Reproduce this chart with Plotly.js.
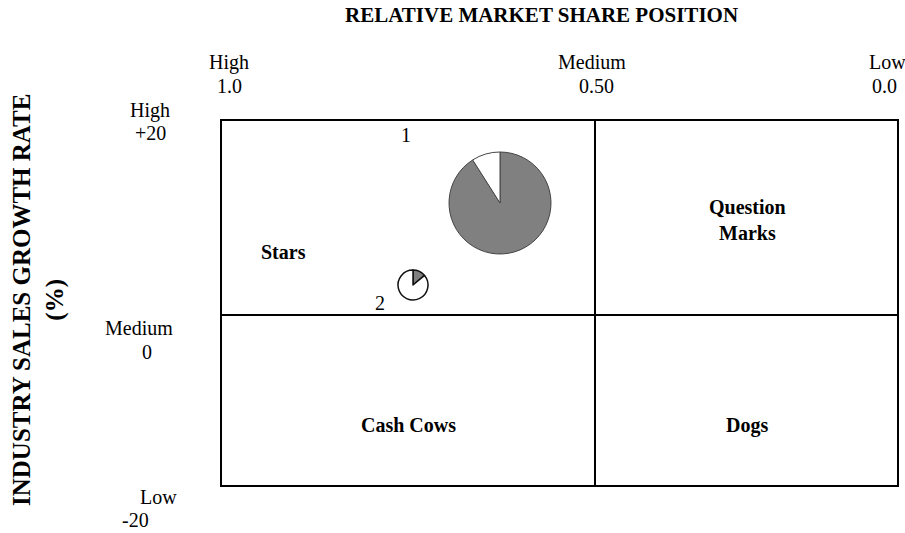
<!DOCTYPE html>
<html><head><meta charset="utf-8">
<script src="https://cdn.plot.ly/plotly-3.0.1.min.js"></script>
<style>html,body{margin:0;padding:0;background:#fff}</style>
</head><body>
<div id="chart" style="width:905px;height:533px"></div>
<script>
// Data
const xLevels = ["High", "Medium", "Low"];
const xValues = ["1.0", "0.50", "0.0"];
const yLevels = ["High", "Medium", "Low"];
const yValues = ["+20", "0", "-20"];
const quadrants = ["Stars", "Question<br>Marks", "Cash Cows", "Dogs"];
const products = ["1", "2"];
const sharePct = [[91, 9], [14, 86]];   // filled part, empty part
const pieColors = ["#808080", "#ffffff"];

const W = 905, H = 533;
const box = {x0: 221, x1: 898, y0: 120, y1: 486, xm: 595, ym: 315};
const font = "Liberation Serif, Times New Roman, serif";
const fs = 20;

function px(x){return x / W;}
function py(y){return 1 - y / H;}

const pieGeom = [{cx: 500, cy: 203, r: 51}, {cx: 413, cy: 285, r: 15}];
const traces = products.map((p, i) => {
  const g = pieGeom[i];
  return {
    type: "pie",
    values: sharePct[i],
    labels: ["share", "rest"],
    sort: false,
    direction: "clockwise",
    rotation: 0,
    textinfo: "none",
    hoverinfo: "skip",
    showlegend: false,
    marker: {colors: pieColors, line: {color: i === 0 ? "#444" : "#111", width: i === 0 ? 1 : 1.5}},
    domain: {x: [px(g.cx - g.r), px(g.cx + g.r)], y: [py(g.cy + g.r), py(g.cy - g.r)]}
  };
});

const ann = [];
function txt(t, x, y, size, extra){
  ann.push(Object.assign({text: t, x: x, y: y, xref: "x", yref: "y", showarrow: false,
    font: {family: font, size: size, color: "#000"}}, extra || {}));
}
// top (relative market share) labels
const xLevelPos = [229, 592, 887];
const xValuePos = [229, 596, 884];
xLevels.forEach((t, i) => { txt(t, xLevelPos[i], 62, fs); txt(xValues[i], xValuePos[i], 86, fs); });
// left (growth rate) labels
const yLevelPos = [{x: 150, y: 110}, {x: 139, y: 328}, {x: 158, y: 497}];
const yValuePos = [{x: 150, y: 133}, {x: 147, y: 352}, {x: 135, y: 520}];
yLevels.forEach((t, i) => {
  txt(t, yLevelPos[i].x, yLevelPos[i].y, fs);
  txt(yValues[i], yValuePos[i].x, yValuePos[i].y, fs);
});
const quadPos = [{x: 283, y: 252}, {x: 747, y: 220}, {x: 408, y: 425}, {x: 747, y: 425}];
quadrants.forEach((t, i) => txt("<b>" + t + "</b>", quadPos[i].x, quadPos[i].y, fs, {align: "center"}));
const prodPos = [{x: 406, y: 135}, {x: 380, y: 303}];
products.forEach((t, i) => txt(t, prodPos[i].x, prodPos[i].y, fs));
txt("<b>RELATIVE MARKET SHARE POSITION</b>", 541, 15, 21);
txt("<b>INDUSTRY SALES GROWTH RATE<br>(%)</b>", 38, 300, 25, {textangle: -90, align: "center"});

const lw = 2;
const shapes = [
  {type: "rect", x0: box.x0, x1: box.x1, y0: box.y0, y1: box.y1, line: {color: "#000", width: lw}},
  {type: "line", x0: box.xm, x1: box.xm, y0: box.y0, y1: box.y1, line: {color: "#000", width: lw}},
  {type: "line", x0: box.x0, x1: box.x1, y0: box.ym, y1: box.ym, line: {color: "#000", width: lw}}
].map(s => Object.assign({xref: "x", yref: "y", layer: "below"}, s));

const layout = {
  width: W, height: H,
  margin: {l: 0, r: 0, t: 0, b: 0},
  paper_bgcolor: "#fff", plot_bgcolor: "#fff",
  xaxis: {range: [0, W], visible: false, fixedrange: true},
  yaxis: {range: [H, 0], visible: false, fixedrange: true},
  shapes: shapes,
  annotations: ann,
  showlegend: false
};
Plotly.newPlot("chart", traces, layout, {staticPlot: true, displayModeBar: false});
</script>
</body></html>
